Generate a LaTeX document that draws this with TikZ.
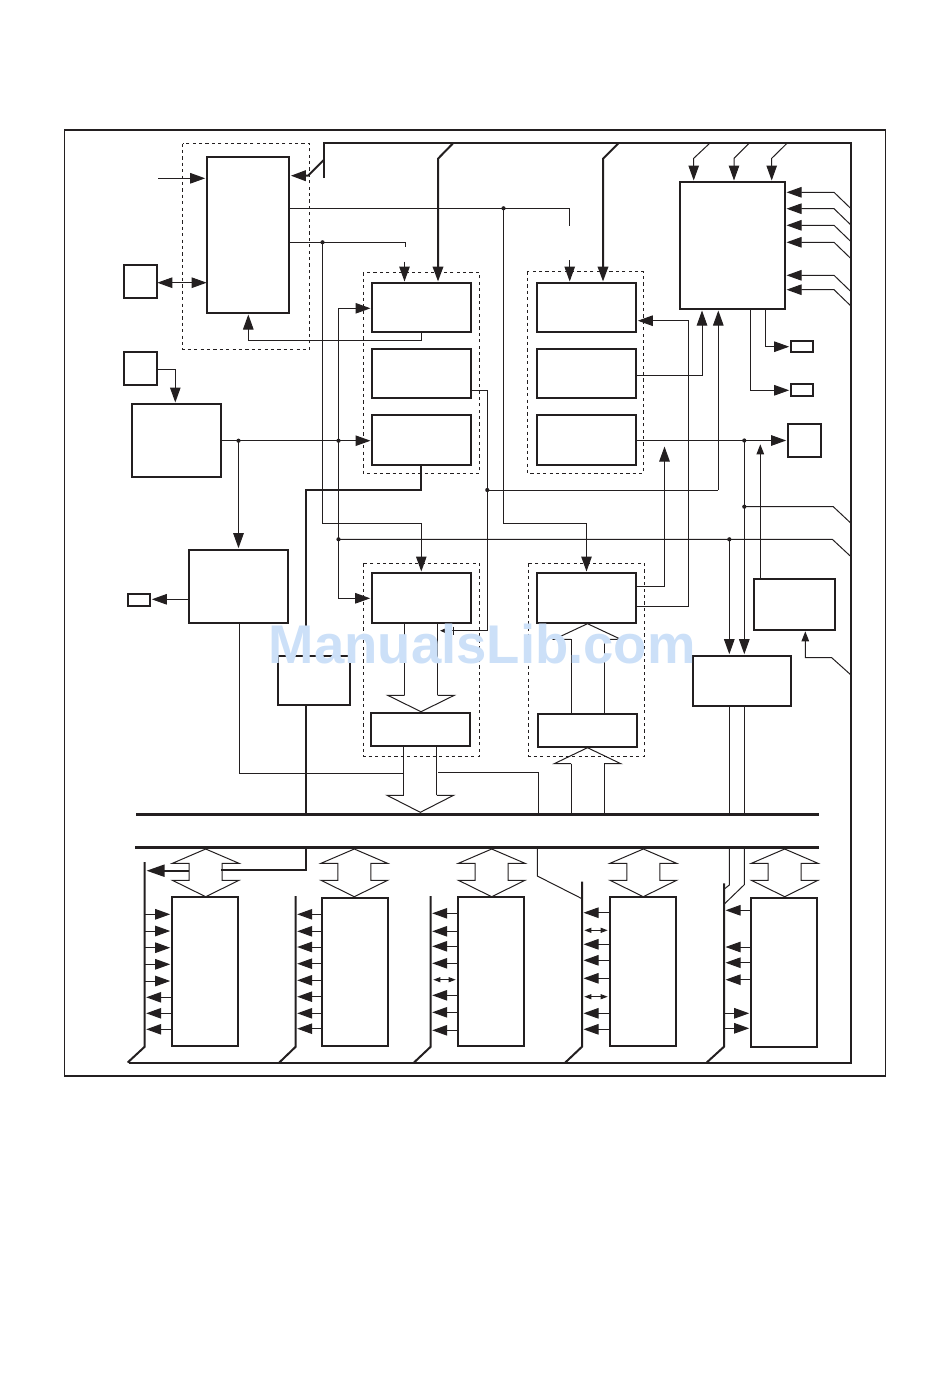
\documentclass[tikz,border=0pt]{standalone}
\usepackage{fontspec}
\setmainfont{Liberation Sans}
\usetikzlibrary{arrows.meta,fit}
\definecolor{ink}{HTML}{231F20}
\definecolor{wm}{HTML}{CCE0F8}
\tikzset{
  fl/.style={line width=1pt,draw=ink},
  tk/.style={line width=2pt,draw=ink},
  rail/.style={line width=2.7pt,draw=ink},
  frameline/.style={line width=1.7pt,draw=ink},
  box/.style={draw=ink,line width=2pt,inner sep=0pt,outer sep=0pt},
  dashbox/.style={draw=ink,line width=.8pt,dash pattern=on 3.2pt off 3.2pt},
  big/.style={-{Triangle[length=15pt,width=10.5pt]},shorten >=1.5pt},
  mid/.style={-{Triangle[length=10pt,width=7.5pt]},shorten >=1pt},
  tiny/.style={{Triangle[length=7pt,width=5pt]}-{Triangle[length=7pt,width=5pt]}},
  both/.style={{Triangle[length=15pt,width=10.5pt]}-{Triangle[length=15pt,width=10.5pt]}},
  dot/.style={fill=ink},
}
\newcommand{\bx}[5]{\node[box,fit={(#2,#3) (#4,#5)}] (#1) {};}
\newcommand{\dbx}[4]{\draw[dashbox] (#1,#2) rectangle (#3,#4);}
\newcommand{\blob}[1]{\fill[dot] (#1) circle (2.1pt);}
% double-ended hollow arrow between the lower rail and a peripheral box
\newcommand{\dblarrow}[1]{\draw[fl] (#1,849) -- (#1-33.3,863.3) -- (#1-16.5,863.3) -- (#1-16.5,880.3) -- (#1-33.3,880.3) -- (#1,896.7) -- (#1+33.3,880.3) -- (#1+16.5,880.3) -- (#1+16.5,863.3) -- (#1+33.3,863.3) -- cycle;}
% hollow arrow head: centre, base y, tip y
\newcommand{\hhead}[3]{\draw[fl] (#1-16.5,#2) -- (#1-33.3,#2) -- (#1,#3) -- (#1+33.3,#2) -- (#1+16.5,#2);}
% input on the right of the top-right block
\newcommand{\rin}[1]{\draw[fl,big] (busR |- 0,#1+16.4) -- (834,#1) -- (M.east |- 0,#1);}
\begin{document}
\begin{tikzpicture}[x=1pt,y=-1pt]
\useasboundingbox (0,0) rectangle (950,1398);
% outer frame
\draw[frameline] (64.5,130) rectangle (885.5,1076);
% dashed groups
\dbx{182.5}{143.5}{309.5}{349.5}
\dbx{363.3}{272.3}{479.3}{473.3}
\dbx{527.3}{271.5}{643.3}{473.3}
\dbx{363.3}{563.3}{479.3}{756.3}
\dbx{528.3}{563.3}{644.3}{756.3}
% boxes
\bx{A}{206.7}{156.7}{289.3}{313}
\bx{P1}{123.7}{264.7}{157.3}{298}
\bx{P2}{123.7}{351.7}{157.3}{385}
\bx{C}{132}{404}{221}{477}
\bx{D1}{372}{283}{471.3}{332}
\bx{D2}{372}{349}{471.3}{397.7}
\bx{D3}{372}{415}{471.3}{465}
\bx{G1}{536.7}{283}{636.3}{332}
\bx{G2}{536.7}{349}{636.3}{398}
\bx{G3}{536.7}{415}{636.3}{465}
\bx{M}{680}{182}{785}{309}
\bx{S1}{790.7}{340.7}{813.3}{352}
\bx{S2}{790.7}{383.7}{813.3}{396.3}
\bx{S3}{787.7}{423.7}{821.3}{457.3}
\bx{K}{188.7}{549.7}{288.3}{623}
\bx{S4}{127.7}{593.7}{150.3}{606.3}
\bx{J}{277.7}{655.7}{350.3}{705.3}
\bx{H1}{371.7}{573}{471.3}{623}
\bx{H2}{370.7}{713}{470.3}{746}
\bx{I1}{536.7}{573}{636.3}{623}
\bx{I2}{537.7}{714}{637.3}{747}
\bx{F}{692.7}{655.7}{790.7}{706}
\bx{E}{753.7}{579.3}{835.3}{630.3}
\bx{L1}{171.7}{896.7}{238.3}{1046}
\bx{L2}{321.7}{898}{388}{1046}
\bx{L3}{458}{896.7}{524.3}{1046}
\bx{L4}{610}{896.7}{676}{1046}
\bx{L5}{750.7}{898}{817}{1046.5}
% named points
\coordinate (busL) at (323.7,143);
\coordinate (busR) at (851,143);
\coordinate (busB) at (851,1062.5);
\coordinate (busE) at (129,1062.5);
\coordinate (r1a) at (136,814.3);
\coordinate (r1b) at (819,814.3);
\coordinate (r2a) at (135,847.3);
\coordinate (r2b) at (819,847.3);
\coordinate (dA) at (503.5,208.3);
\coordinate (dB) at (322.5,242.3);
\coordinate (dC) at (238.5,440.7);
\coordinate (dD) at (338.5,440.7);
\coordinate (dE) at (338.5,539.3);
\coordinate (dF) at (729.3,539.3);
\coordinate (dG) at (744.3,506.7);
\coordinate (dH) at (744.3,440.5);
\coordinate (dI) at (487.3,490);
\coordinate (in) at (158.3,178.3);
% main bus
\draw[tk] (323.7,178) -- (busL) -- (busR) -- (busB) -- (busE);
% rails
\draw[rail] (r1a) -- (r1b);
\draw[rail] (r2a) -- (r2b);
% bus branches
\draw[tk,big] (323.7,160) -- (308,175.7) -- (A.east |- 0,175.7);
\draw[tk,big] (453.3,143) -- (438,158.7) -- (D1.north -| 438,0);
\draw[tk,big] (618.7,143) -- (603,158.7) -- (G1.north -| 603,0);
\draw[fl,big] (710,143) -- (693.7,158.3) -- (M.north -| 693.7,0);
\draw[fl,big] (749.3,143) -- (734,158.3) -- (M.north -| 734,0);
\draw[fl,big] (787.3,143) -- (771.7,158.3) -- (M.north -| 771.7,0);
\rin{192.3}\rin{208.7}\rin{225.3}\rin{242.3}\rin{275.3}\rin{289.7}
% clock block
\draw[fl,big] (in) -- (A.west |- in);
\draw[fl,both] (P1.east |- 0,282.7) -- (A.west |- 0,282.7);
\draw[fl,big] (D1.south -| 421.7,0) -- (421.7,340.3) -- (248.3,340.3) -- (A.south -| 248.3,0);
\draw[fl] (A.east |- dA) -- (569.7,208.3) -- (569.7,225.7);
\draw[fl,big] (569.7,260) -- (G1.north -| 569.7,0);
\draw[fl] (A.east |- dB) -- (405,242.3) -- (405,246.7);
\draw[fl,big] (404.5,261.7) -- (D1.north -| 404.5,0);
\draw[fl,big] (dA) -- (503.5,523.3) -- (586.5,523.3) -- (I1.north -| 586.5,0);
\draw[fl,big] (dB) -- (322.5,523.3) -- (421.3,523.3) -- (H1.north -| 421.3,0);
% oscillator / generator
\draw[fl,big] (P2.east |- 0,369.3) -- (175.3,369.3) -- (C.north -| 175.3,0);
\draw[fl,big] (C.east |- dC) -- (D3.west |- dC);
\draw[fl,big] (dC) -- (K.north -| dC);
\draw[fl,big] (K.west |- 0,599.3) -- (S4.east |- 0,599.3);
\draw[fl,big] (338.5,308.3) -- (D1.west |- 0,308.3);
\draw[fl] (338.5,308.3) -- (dD) -- (dE);
\draw[fl,big] (dE) -- (338.5,598.3) -- (H1.west |- 0,598.3);
\draw[fl] (dE) -- (832.3,539.3) -- (busR |- 0,556.7);
\draw[fl,big] (dF) -- (F.north -| dF);
\draw[fl] (F.south -| dF) -- (r1a -| dF);
\draw[fl] (dG) -- (833.3,506.7) -- (busR |- 0,523.3);
\draw[fl] (dH) -- (dG);
\draw[fl,big] (dG) -- (F.north -| dG);
\draw[fl] (F.south -| dG) -- (r1a -| dG);
\draw[fl,mid] (E.north -| 760.3,0) -- (760.3,443.3);
\draw[fl,mid] (busR |- 0,675) -- (831.7,657.7) -- (805.3,657.7) -- (E.south -| 805.3,0);
% D column
\draw[fl] (D2.east |- 0,390) -- (487.3,390) -- (dI) -- (487.3,630.7) -- (453.3,630.7);
\draw[fl] (453.3,626.7) -- (453.3,635);
\draw[fl,-{Triangle[length=5pt,width=4pt]}] (453.3,630.7) -- (440,630.7);
\draw[fl] (dI) -- (718.3,490);
\draw[fl,big] (718.3,490) -- (M.south -| 718.3,0);
\draw[tk] (D3.south -| 421,0) -- (421,490) -- (305.8,490) -- (J.north -| 305.8,0);
\draw[tk] (J.south -| 305.8,0) -- (r1a -| 305.8,0);
% G column
\draw[fl,big] (I1.east |- 0,606.7) -- (688.7,606.7) -- (688.7,320.7) -- (G1.east |- 0,320.7);
\draw[fl,big] (I1.east |- 0,586.3) -- (664.5,586.3) -- (664.5,445);
\draw[fl,big] (G2.east |- 0,375.3) -- (702,375.3) -- (M.south -| 702,0);
\draw[fl,big] (G3.east |- 0,440.5) -- (S3.west |- 0,440.5);
% top-right outputs
\draw[fl,big] (M.south -| 765.3,0) -- (765.3,346.7) -- (S1.west |- 0,346.7);
\draw[fl,big] (M.south -| 750.3,0) -- (750.3,390.3) -- (S2.west |- 0,390.3);
% hollow arrows
\draw[fl] (H1.south -| 404.7,0) -- (404.7,695.3);
\draw[fl] (H1.south -| 437.3,0) -- (437.3,695.3);
\hhead{421}{695.3}{711.7}
\draw[fl] (H2.south -| 403.7,0) -- (403.7,795.3);
\draw[fl] (H2.south -| 436.3,0) -- (436.3,795.3);
\hhead{420.3}{795.3}{812.3}
\draw[fl] (I2.north -| 571.7,0) -- (571.7,639.3);
\draw[fl] (I2.north -| 604.3,0) -- (604.3,639.3);
\hhead{587.5}{639.3}{623.7}
\draw[fl] (r1a -| 571.7,0) -- (571.7,763.7);
\draw[fl] (r1a -| 604.3,0) -- (604.3,763.7);
\hhead{587.5}{763.7}{747.7}
% K to rail
\draw[fl] (K.south -| 239.3,0) -- (239.3,773.3) -- (402.7,773.3);
\draw[fl] (438,772.3) -- (538.3,772.3) -- (r1a -| 538.3,0);
% double arrows
\dblarrow{205.7}\dblarrow{354.3}\dblarrow{491.7}\dblarrow{643.3}\dblarrow{784.7}
% peripheral local buses
\draw[tk] (144.7,862) -- (144.7,1046.7) -- (127.7,1062.5);
\draw[tk] (295.7,896) -- (295.7,1046.7) -- (279.3,1062.5);
\draw[tk] (430.7,896) -- (430.7,1046.7) -- (414,1062.5);
\draw[tk] (582,881.7) -- (582,1046.7) -- (565.3,1062.5);
\draw[tk] (724,883.3) -- (724,1046.7) -- (706.7,1062.5);
\coordinate (v1) at (144.7,1000);
\coordinate (v2) at (295.7,1000);
\coordinate (v3) at (430.7,1000);
\coordinate (v4) at (582,1000);
\coordinate (v5) at (724,1000);
% rail links below
\draw[tk] (r2a -| 306,0) -- (306,870) -- (221.4,870);
\draw[tk,-{Triangle[length=18pt,width=12pt]}] (189.2,870.7) -- (146.5,870.7);
\draw[fl] (r2a -| 537.3,0) -- (537.3,876) -- (v4 |- 0,898.7);
\draw[fl] (r2a -| 729.3,0) -- (729.3,885) -- (v5 |- 0,889.3);
\draw[fl] (r2a -| 744.3,0) -- (744.3,884.7) -- (v5 |- 0,904.3);
% L1 arrows
\foreach \y in {914.3,931,947.7,964.3,981} \draw[fl,big] (v1 |- 0,\y) -- (L1.west |- 0,\y);
\foreach \y in {997.3,1013.3,1029.3} \draw[fl,big] (L1.west |- 0,\y) -- (v1 |- 0,\y);
% L2 arrows
\foreach \y in {914.3,931.3,947,963.7,980.3,996.7,1013.3,1028.7} \draw[fl,big] (L2.west |- 0,\y) -- (v2 |- 0,\y);
% L3 arrows
\foreach \y in {913.3,931.3,946.3,963.3,995.3,1012.3,1030.3} \draw[fl,big] (L3.west |- 0,\y) -- (v3 |- 0,\y);
\draw[fl,tiny] (433.3,979.7) -- (455.7,979.7);
% L4 arrows
\foreach \y in {912.7,944.3,960.3,978.3,1013.3,1029.3} \draw[fl,big] (L4.west |- 0,\y) -- (v4 |- 0,\y);
\foreach \y in {930.3,996.7} \draw[fl,tiny] (584.3,\y) -- (607.7,\y);
% L5 arrows
\foreach \y in {910.3,947,962.7,979.7} \draw[fl,big] (L5.west |- 0,\y) -- (v5 |- 0,\y);
\foreach \y in {1013.3,1028.3} \draw[fl,big] (v5 |- 0,\y) -- (L5.west |- 0,\y);
% junction dots
\blob{dA}\blob{dB}\blob{dC}\blob{dD}\blob{dE}\blob{dF}\blob{dG}\blob{dH}\blob{dI}
% watermark
\node[anchor=base west,inner sep=0pt,text=wm,font=\bfseries\fontsize{54.5pt}{60pt}\selectfont] (wmark) at (268.5,663.3) {ManualsLib.com};
\end{tikzpicture}
\end{document}
